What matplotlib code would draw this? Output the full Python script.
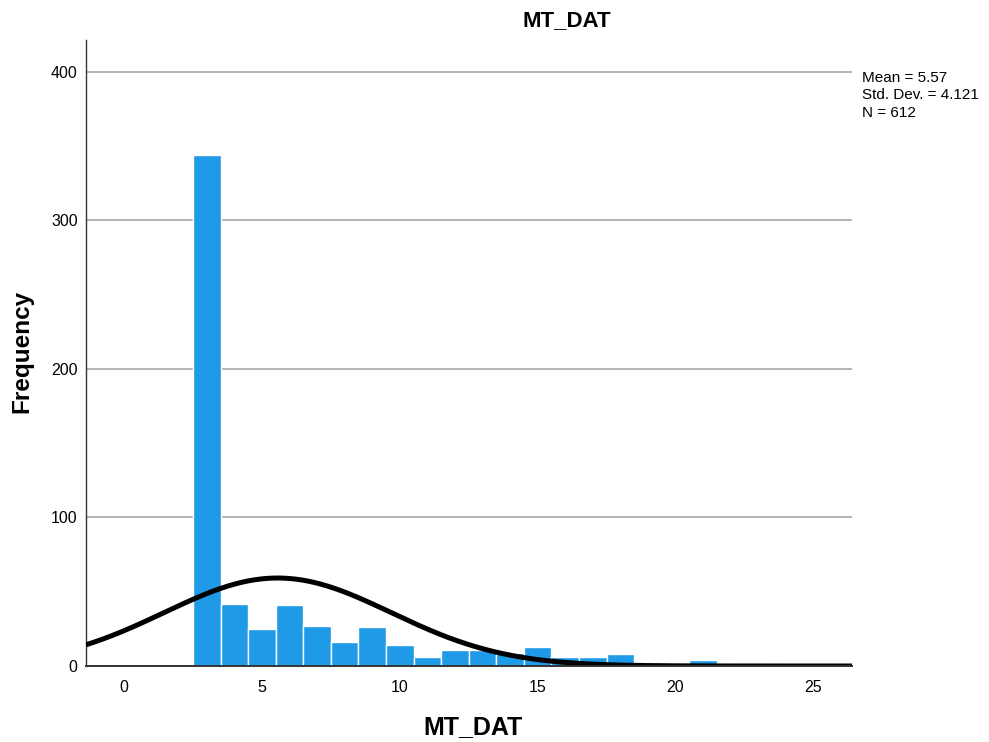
import numpy as np
import matplotlib
matplotlib.use("Agg")
import matplotlib.pyplot as plt

# Histogram of MT_DAT (bin width 1, centred on integers)
bin_centers = [3, 4, 5, 6, 7, 8, 9, 10, 11, 12, 13, 14, 15, 16, 17, 18, 19, 20, 21]
counts = [344, 42, 25, 41, 27, 16, 26, 14, 6, 11, 11, 9, 13, 6, 6, 8, 0, 2, 4]
mean_val = 5.57
std_val = 4.121
n_total = 612
x_ticks = [0, 5, 10, 15, 20, 25]
y_ticks = [0, 100, 200, 300, 400]

plt.rcParams['font.family'] = ['Liberation Sans', 'DejaVu Sans']

fig = plt.figure(figsize=(9.89, 7.42), dpi=100)
ax = fig.add_axes([86 / 989, 76 / 742, (852 - 86) / 989, (666 - 40) / 742])

bar_color = '#1e9ae6'
ax.bar(bin_centers, counts, width=1.0, color=bar_color, edgecolor='white',
       linewidth=1.0, zorder=2)

# Normal curve scaled to counts per unit bin
xlim = (-1.38, 26.4)
xs = np.linspace(xlim[0], xlim[1], 600)
ys = n_total * 1.0 / (std_val * np.sqrt(2 * np.pi)) * np.exp(-0.5 * ((xs - mean_val) / std_val) ** 2)
ax.plot(xs, ys, color='black', linewidth=3.6, zorder=3, solid_capstyle='butt')

ax.set_xlim(*xlim)
ax.set_ylim(0, 421.5)
ax.set_xticks(x_ticks)
ax.set_yticks(y_ticks)
ax.tick_params(axis='both', length=0, labelsize=11.5, colors='black', pad=10)
ax.tick_params(axis='y', pad=6)

for y in y_ticks[1:]:
    ax.axhline(y, color='#b4b4b4', linewidth=1.4, zorder=1)

for side in ('top', 'right'):
    ax.spines[side].set_visible(False)
ax.spines['left'].set_color('#333333')
ax.spines['bottom'].set_color('#333333')
ax.spines['left'].set_linewidth(1.0)
ax.spines['bottom'].set_linewidth(1.4)
ax.spines['bottom'].set_zorder(4)

fig.text(473 / 989, 1 - 727 / 742, 'MT_DAT', ha='center', va='center',
         fontsize=18, fontweight='bold')
fig.text(22 / 989, 1 - 351 / 742, 'Frequency', ha='center', va='center',
         rotation=90, fontsize=17.5, fontweight='bold')

fig.text(567 / 989, 1 - 21 / 742, 'MT_DAT', ha='center', va='center',
         fontsize=16, fontweight='bold')

fig.text(862 / 989, 1 - 71 / 742,
         f'Mean = {mean_val}\nStd. Dev. = {std_val}\nN = {n_total}',
         ha='left', va='top', fontsize=11, linespacing=1.3)

fig.savefig('out.png', dpi=100)
